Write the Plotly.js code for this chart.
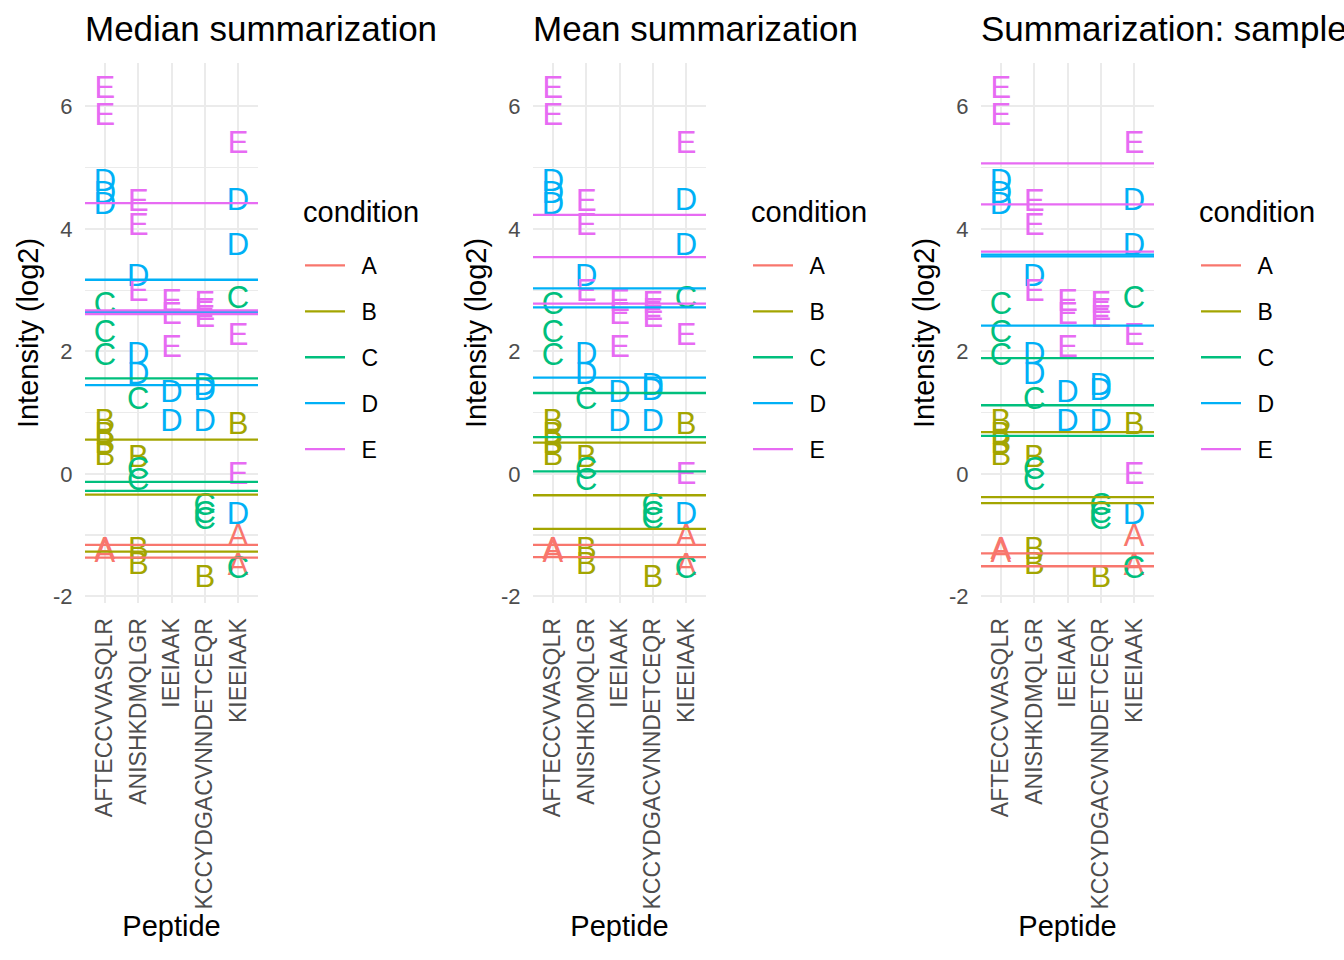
<!DOCTYPE html>
<html>
<head>
<meta charset="utf-8">
<script src="https://cdn.plot.ly/plotly-3.0.1.min.js"></script>
<style>html,body{margin:0;padding:0;background:#fff;}#chart{width:1344px;height:960px;}</style>
</head>
<body>
<div id="chart"></div>
<script>
// ---------- data ----------
const peptides = ["AFTECCVVASQLR", "ANISHKDMQLGR", "IEEIAAK", "KCCYDGACVNNDETCEQR", "KIEEIAAK"];
const conditions = ["A", "B", "C", "D", "E"];
const conditionColors = ["#F8766D", "#A3A500", "#00BF7D", "#00B0F6", "#E76BF3"];
const panelTitles = ["Median summarization", "Mean summarization", "Summarization: sample + peptide effect"];
const legendTitle = "condition";
const yTickValues = [-2, 0, 2, 4, 6];
const yTickLabels = ["-2", "0", "2", "4", "6"];

// observed peptide intensities (log2), one letter per observation
const pointPeptide = [
  "AFTECCVVASQLR","AFTECCVVASQLR","AFTECCVVASQLR","AFTECCVVASQLR","AFTECCVVASQLR","AFTECCVVASQLR","AFTECCVVASQLR",
  "AFTECCVVASQLR","AFTECCVVASQLR","AFTECCVVASQLR","AFTECCVVASQLR","AFTECCVVASQLR","AFTECCVVASQLR","AFTECCVVASQLR",
  "ANISHKDMQLGR","ANISHKDMQLGR","ANISHKDMQLGR","ANISHKDMQLGR","ANISHKDMQLGR","ANISHKDMQLGR",
  "ANISHKDMQLGR","ANISHKDMQLGR","ANISHKDMQLGR","ANISHKDMQLGR","ANISHKDMQLGR","ANISHKDMQLGR",
  "IEEIAAK","IEEIAAK","IEEIAAK","IEEIAAK","IEEIAAK",
  "KCCYDGACVNNDETCEQR","KCCYDGACVNNDETCEQR","KCCYDGACVNNDETCEQR","KCCYDGACVNNDETCEQR","KCCYDGACVNNDETCEQR",
  "KCCYDGACVNNDETCEQR","KCCYDGACVNNDETCEQR","KCCYDGACVNNDETCEQR","KCCYDGACVNNDETCEQR","KCCYDGACVNNDETCEQR",
  "KIEEIAAK","KIEEIAAK","KIEEIAAK","KIEEIAAK","KIEEIAAK","KIEEIAAK",
  "KIEEIAAK","KIEEIAAK","KIEEIAAK","KIEEIAAK","KIEEIAAK"
];
const pointCondition = [
  "E","E","D","D","D","C","C",
  "C","B","B","B","B","A","A",
  "E","E","E","D","D","D",
  "C","C","C","B","B","B",
  "E","E","E","D","D",
  "E","E","E","D","D",
  "D","C","C","C","B",
  "E","E","E","D","D","D",
  "C","C","B","A","A"
];
const pointIntensity = [
  6.27, 5.83, 4.75, 4.55, 4.37, 2.73, 2.28,
  1.90, 0.82, 0.62, 0.47, 0.27, -1.27, -1.32,
  4.42, 4.03, 2.95, 3.20, 1.92, 1.60,
  1.19, 0.05, -0.14, 0.24, -1.26, -1.51,
  2.78, 2.58, 2.03, 1.30, 0.83,
  2.75, 2.64, 2.52, 1.42, 1.33,
  0.83, -0.54, -0.67, -0.78, -1.73,
  5.36, 2.23, -0.04, 4.44, 3.70, -0.69,
  2.84, -1.57, 0.77, -1.06, -1.52
];

// per-sample summarized protein intensity for each method
const sampleCondition = ["A","A","B","B","B","C","C","C","D","D","D","E","E","E"];
const medianSummary = [-1.16, -1.37, 0.56, -0.34, -1.27, 1.56, -0.13, -0.28, 3.17, 2.64, 1.45, 4.42, 2.67, 2.61];
const meanSummary   = [-1.16, -1.36, 0.51, -0.35, -0.90, 1.32, 0.60, 0.04, 3.03, 2.72, 1.57, 4.23, 3.54, 2.78];
const modelSummary  = [-1.30, -1.51, 0.68, -0.38, -0.48, 1.89, 1.12, 0.62, 3.58, 3.55, 2.42, 5.07, 4.40, 3.63];
const summaries = [medianSummary, meanSummary, modelSummary];

// ---------- layout constants ----------
const W = 1344, H = 960;
const xRange = [-0.6, 4.6];
const yRange = [-2.11, 6.71];
const panelLeft = [85, 533, 981];
const panelWidth = 173;
const panelTop = 63, panelBottom = 603;
const legendLeft = [300, 748, 1196];
const FONT = "Liberation Sans, Arial, Helvetica, sans-serif";

const traces = [];
const layout = {
  width: W, height: H,
  margin: {l: 0, r: 0, t: 0, b: 0},
  paper_bgcolor: "#ffffff", plot_bgcolor: "#ffffff",
  font: {family: FONT, color: "#000000"},
  annotations: [],
  showlegend: true
};

for (let p = 0; p < 3; p++) {
  const sfx = p === 0 ? "" : String(p + 1);
  const xa = "x" + sfx, ya = "y" + sfx;
  const legId = "legend" + sfx;

  // letters
  conditions.forEach((c, ci) => {
    const xs = [], ys = [], ts = [];
    pointCondition.forEach((pc, i) => {
      if (pc === c) {
        xs.push(peptides.indexOf(pointPeptide[i]));
        ys.push(pointIntensity[i]);
        ts.push(c);
      }
    });
    traces.push({
      type: "scatter", mode: "text", x: xs, y: ys, text: ts,
      textposition: "middle center",
      textfont: {family: FONT, size: 31, color: conditionColors[ci]},
      xaxis: xa, yaxis: ya, showlegend: false, hoverinfo: "skip", cliponaxis: false
    });
  });

  // horizontal summary lines
  const summ = summaries[p];
  conditions.forEach((c, ci) => {
    const xs = [], ys = [];
    sampleCondition.forEach((sc, i) => {
      if (sc === c) {
        xs.push(xRange[0], xRange[1], null);
        ys.push(summ[i], summ[i], null);
      }
    });
    traces.push({
      type: "scatter", mode: "lines", x: xs, y: ys, name: "\u2002" + c,
      line: {color: conditionColors[ci], width: 2.3},
      xaxis: xa, yaxis: ya, legend: legId, legendgroup: "g" + p + c,
      showlegend: true, hoverinfo: "skip", connectgaps: false
    });
  });

  layout["xaxis" + sfx] = {
    domain: [panelLeft[p] / W, (panelLeft[p] + panelWidth) / W],
    anchor: ya, range: xRange, fixedrange: true,
    tickmode: "array", tickvals: peptides.map((_, i) => i), ticktext: peptides,
    tickangle: -90, tickfont: {family: FONT, size: 23, color: "#4D4D4D"},
    ticks: "outside", ticklen: 5, tickcolor: "rgba(0,0,0,0)",
    showgrid: true, gridcolor: "#EBEBEB", gridwidth: 2,
    zeroline: false, showline: false, automargin: false,
    title: {text: "Peptide", font: {family: FONT, size: 29, color: "#000000"}, standoff: 7}
  };
  layout["yaxis" + sfx] = {
    domain: [1 - panelBottom / H, 1 - panelTop / H],
    anchor: xa, range: yRange, fixedrange: true,
    tickmode: "array", tickvals: yTickValues, ticktext: yTickLabels,
    tickfont: {family: FONT, size: 22, color: "#4D4D4D"},
    ticks: "outside", ticklen: 7, tickcolor: "rgba(0,0,0,0)",
    showgrid: true, gridcolor: "#EBEBEB", gridwidth: 2,
    minor: {tickmode: "array", tickvals: [-1, 1, 3, 5], showgrid: true, gridcolor: "#EBEBEB", gridwidth: 1.2, ticks: ""},
    zeroline: false, showline: false, automargin: false,
    title: {text: "Intensity (log2)", font: {family: FONT, size: 29, color: "#000000"}, standoff: 5}
  };
  layout[legId] = {
    x: legendLeft[p] / W, xanchor: "left",
    y: 1 - 244 / H, yanchor: "top",
    bgcolor: "rgba(0,0,0,0)", borderwidth: 0,
    font: {family: FONT, size: 23, color: "#000000"},
    itemwidth: 40,
    traceorder: "grouped", tracegroupgap: 13, itemclick: false, itemdoubleclick: false
  };
  // legend title
  layout.annotations.push({
    text: legendTitle, xref: "paper", yref: "paper",
    x: (legendLeft[p] + 1) / W, xanchor: "left",
    y: 1 - 212 / H, yanchor: "middle", showarrow: false,
    font: {family: FONT, size: 29, color: "#000000"}
  });
  // panel title
  layout.annotations.push({
    text: panelTitles[p], xref: "paper", yref: "paper",
    x: (panelLeft[p] - 2) / W, xanchor: "left",
    y: 1 - 29 / H, yanchor: "middle", showarrow: false,
    font: {family: FONT, size: 35, color: "#000000"}
  });
}

Plotly.newPlot("chart", traces, layout, {displayModeBar: false, staticPlot: true});
</script>
</body>
</html>
